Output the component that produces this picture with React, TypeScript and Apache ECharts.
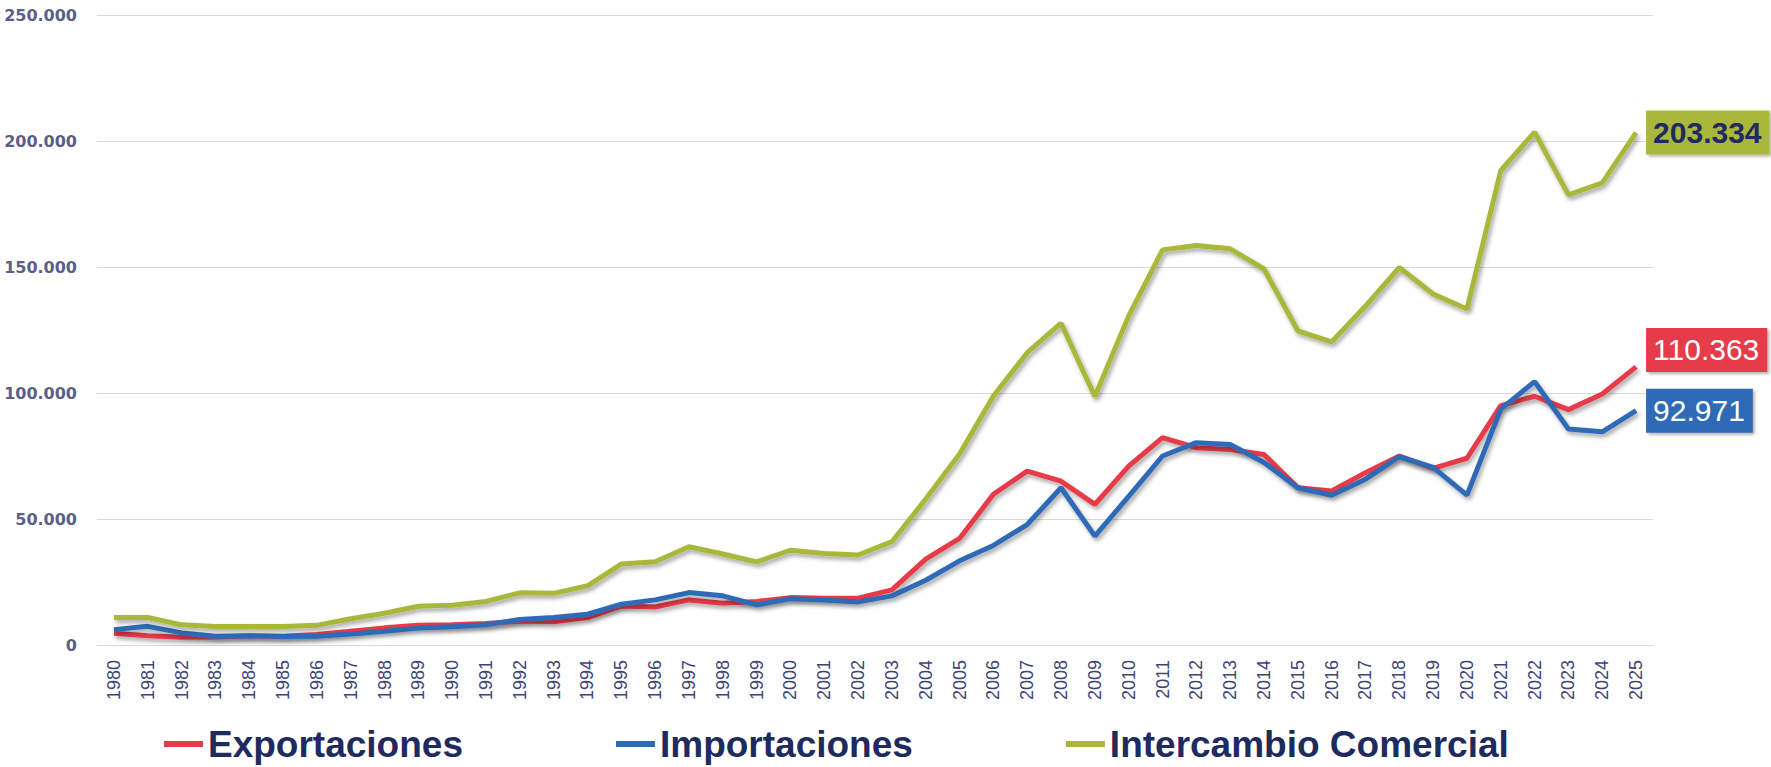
import React, { useEffect, useRef } from "react";
import * as echarts from "echarts";

const years: string[] = [
  "1980", "1981", "1982", "1983", "1984", "1985", "1986", "1987", "1988", "1989",
  "1990", "1991", "1992", "1993", "1994", "1995", "1996", "1997", "1998", "1999",
  "2000", "2001", "2002", "2003", "2004", "2005", "2006", "2007", "2008", "2009",
  "2010", "2011", "2012", "2013", "2014", "2015", "2016", "2017", "2018", "2019",
  "2020", "2021", "2022", "2023", "2024", "2025",
];

const exportaciones: number[] = [
  4700, 3700, 3100, 3200, 3600, 3500, 4200, 5500, 6800, 7800,
  8000, 8500, 9500, 9200, 10900, 15500, 15100, 17900, 16600, 17300,
  18800, 18600, 18600, 21900, 34100, 42300, 59800, 69000, 65000, 55800,
  71000, 82300, 78300, 77600, 75600, 62400, 61100, 68400, 75000, 70100,
  74100, 95000, 98700, 93400, 99600, 110363,
];

const importaciones: number[] = [
  6100, 7400, 4800, 3500, 3700, 3400, 3500, 4400, 5500, 6700,
  7200, 8000, 10100, 10900, 12200, 16200, 17900, 20800, 19500, 15900,
  18400, 17900, 17100, 19500, 25700, 33400, 39500, 47800, 62400, 43200,
  59000, 75000, 80300, 79600, 72400, 62400, 59400, 65800, 74700, 70500,
  59500, 93600, 104500, 85700, 84600, 92971,
];

const intercambio: number[] = [
  10900, 10900, 8000, 7300, 7300, 7300, 7800, 10400, 12600, 15400,
  15800, 17300, 20700, 20500, 23500, 32100, 33000, 39000, 36100, 33000,
  37600, 36300, 35700, 41000, 57900, 75800, 98800, 116000, 127700, 98600,
  130600, 156800, 158500, 157200, 149200, 124700, 120300, 134500, 149800, 139300,
  133300, 188300, 203500, 178600, 183400, 203334,
];

const seriesNames: string[] = ["Exportaciones", "Importaciones", "Intercambio Comercial"];

const fmt = (v: number): string =>
  Math.round(v).toString().replace(/\B(?=(\d{3})+(?!\d))/g, ".");

const RED = "#e63a48";
const BLUE = "#2e6bb6";
const GREEN = "#a9b73b";
const NAVY = "#1f2a5e";

export default function App() {
  const ref = useRef<HTMLDivElement>(null);

  useEffect(() => {
    document.body.style.margin = "0";
    document.body.style.overflow = "hidden";
    if (!ref.current) return;
    const chart = echarts.init(ref.current, null, { renderer: "svg" });

    const lineShadow = {
      shadowColor: "rgba(0,0,0,0.35)",
      shadowBlur: 4,
      shadowOffsetX: 2,
      shadowOffsetY: 3,
    };
    const labelBase = {
      show: true,
      distance: 10,
      fontFamily: "Liberation Sans, Arial, sans-serif",
      fontSize: 30,
      lineHeight: 32,
      padding: [6, 8, 6, 7],
      shadowColor: "rgba(0,0,0,0.3)",
      shadowBlur: 3,
      shadowOffsetX: 2,
      shadowOffsetY: 2,
      formatter: (p: any) => fmt(p.value),
    };

    const option: any = {
      animation: false,
      backgroundColor: "#ffffff",
      grid: { left: 97, right: 118, top: 15, bottom: 122, containLabel: false },
      legend: {
        data: seriesNames,
        left: 164,
        top: 724,
        padding: 0,
        itemWidth: 39,
        itemHeight: 6,
        itemGap: 153,
        icon: "rect",
        textStyle: {
          color: NAVY,
          fontFamily: "Liberation Sans, Arial, sans-serif",
          fontWeight: "bold",
          fontSize: 37,
          lineHeight: 40,
        },
      },
      xAxis: {
        type: "category",
        data: years,
        boundaryGap: true,
        axisLine: { show: false },
        axisTick: { show: false },
        axisLabel: {
          rotate: 90,
          interval: 0,
          margin: 15,
          fontSize: 18,
          color: "#3d4577",
          fontFamily: "Liberation Sans, Arial, sans-serif",
        },
      },
      yAxis: {
        type: "value",
        min: 0,
        max: 250000,
        interval: 50000,
        axisLine: { show: false },
        axisTick: { show: false },
        splitLine: { lineStyle: { color: "#d9d9d9", width: 1 } },
        axisLabel: {
          margin: 20,
          fontSize: 16,
          fontWeight: "bold",
          color: "#5b5f88",
          fontFamily: "DejaVu Sans, sans-serif",
          formatter: (v: number) => fmt(v),
        },
      },
      series: [
        {
          name: seriesNames[0],
          type: "line",
          data: exportaciones,
          symbol: "none",
          color: RED,
          lineStyle: { color: RED, width: 5, ...lineShadow },
          endLabel: {
            ...labelBase,
            color: "#ffffff",
            backgroundColor: RED,
            offset: [0, -17],
          },
        },
        {
          name: seriesNames[1],
          type: "line",
          data: importaciones,
          symbol: "none",
          color: BLUE,
          lineStyle: { color: BLUE, width: 5, ...lineShadow },
          endLabel: {
            ...labelBase,
            color: "#ffffff",
            backgroundColor: BLUE,
          },
        },
        {
          name: seriesNames[2],
          type: "line",
          data: intercambio,
          symbol: "none",
          color: GREEN,
          lineStyle: { color: GREEN, width: 5, ...lineShadow },
          endLabel: {
            ...labelBase,
            color: NAVY,
            fontWeight: "bold",
            backgroundColor: GREEN,
          },
        },
      ],
    };

    chart.setOption(option);
    return () => chart.dispose();
  }, []);

  return <div ref={ref} style={{ width: 1771, height: 767 }} />;
}
